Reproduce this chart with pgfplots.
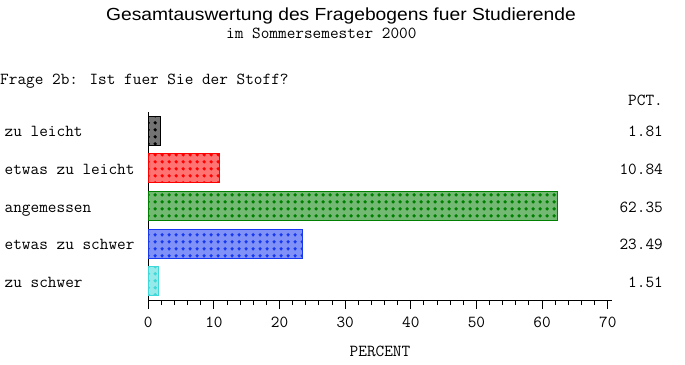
\documentclass[border=0pt]{standalone}
\usepackage{fontspec}
\usepackage{pgfplots}
\pgfplotsset{compat=1.18}
\usetikzlibrary{patterns.meta}
\newfontfamily\titlefont{Liberation Sans}
\newcommand\mono{\ttfamily\fontsize{16.8}{19}\selectfont}

\definecolor{cBlack}{RGB}{0,0,0}
\definecolor{cRed}{RGB}{255,0,0}
\definecolor{cGreen}{RGB}{0,128,0}
\definecolor{cBlue}{RGB}{24,56,240}
\definecolor{cCyan}{RGB}{64,216,216}

\tikzdeclarepattern{
  name=sasdots, type=uncolored,
  bounding box={(0pt,0pt) and (6.6pt,6.6pt)},
  tile size={(6.6pt,6.6pt)},
  code={\fill (3.3pt,3.3pt) circle (1.9pt);}
}

\begin{document}
\begin{tikzpicture}
\path[use as bounding box] (-148.3pt,-63.3pt) rectangle (536.7pt,300.7pt);
\begin{axis}[
  at={(0pt,0pt)}, anchor=south west,
  width=463.4pt, height=189pt, scale only axis,
  xmin=0, xmax=70.6, ymin=-0.52, ymax=4.51,
  axis lines*=left,
  axis line style={line width=1pt, black},
  xtick={0,10,...,70}, minor x tick num=4,
  ytick={0,1,2,3,4},
  yticklabels={zu schwer, etwas zu schwer, angemessen, etwas zu leicht, zu leicht},
  tick align=outside, major tick length=8.5pt, minor tick length=4.3pt,
  xtick style={line width=1pt, black},
  minor x tick style={line width=1pt, black},
  ytick style={draw=none},
  /pgf/number format/assume math mode=true,
  xticklabel style={font=\mono, inner sep=0pt, anchor=base, yshift=-18pt},
  yticklabel style={font=\mono, inner sep=0pt, anchor=base west, xshift=-135.3pt, yshift=-6pt},
  xlabel={PERCENT},
  xlabel style={font=\mono, inner sep=0pt, at={(axis description cs:0.5,0)}, anchor=base, yshift=-55.3pt},
  clip=false,
  every axis plot/.append style={xbar, bar shift=0pt, bar width=0.77, line width=1pt},
]
\addplot[draw=cBlack, fill=cBlack!55, postaction={pattern=sasdots, pattern color=cBlack}] coordinates {(1.81,4)};
\addplot[draw=cRed, fill=cRed!55, postaction={pattern=sasdots, pattern color=cRed}] coordinates {(10.84,3)};
\addplot[draw=cGreen, fill=cGreen!55, postaction={pattern=sasdots, pattern color=cGreen}] coordinates {(62.35,2)};
\addplot[draw=cBlue, fill=cBlue!55, postaction={pattern=sasdots, pattern color=cBlue}] coordinates {(23.49,1)};
\addplot[draw=cCyan, fill=cCyan!55, postaction={pattern=sasdots, pattern color=cCyan}] coordinates {(1.51,0)};
\node[font=\mono, inner sep=0pt, anchor=base east, yshift=-6pt] at (axis cs:78.42,4) {1.81};
\node[font=\mono, inner sep=0pt, anchor=base east, yshift=-6pt] at (axis cs:78.42,3) {10.84};
\node[font=\mono, inner sep=0pt, anchor=base east, yshift=-6pt] at (axis cs:78.42,2) {62.35};
\node[font=\mono, inner sep=0pt, anchor=base east, yshift=-6pt] at (axis cs:78.42,1) {23.49};
\node[font=\mono, inner sep=0pt, anchor=base east, yshift=-6pt] at (axis cs:78.42,0) {1.51};
\end{axis}
\node[inner sep=0pt, anchor=base] at (192.7pt,280pt) {\scalebox{1.1}[1]{\titlefont\fontsize{17.5}{20}\selectfont Gesamtauswertung des Fragebogens fuer Studierende}};
\node[font=\mono, inner sep=0pt, anchor=base west] at (77.7pt,262.4pt) {im Sommersemester 2000};
\node[font=\mono, inner sep=0pt, anchor=base west] at (-148.3pt,215.7pt) {Frage 2b: Ist fuer Sie der Stoff?};
\node[font=\mono, inner sep=0pt, anchor=base east] at (514.7pt,195pt) {PCT.};
\end{tikzpicture}
\end{document}
